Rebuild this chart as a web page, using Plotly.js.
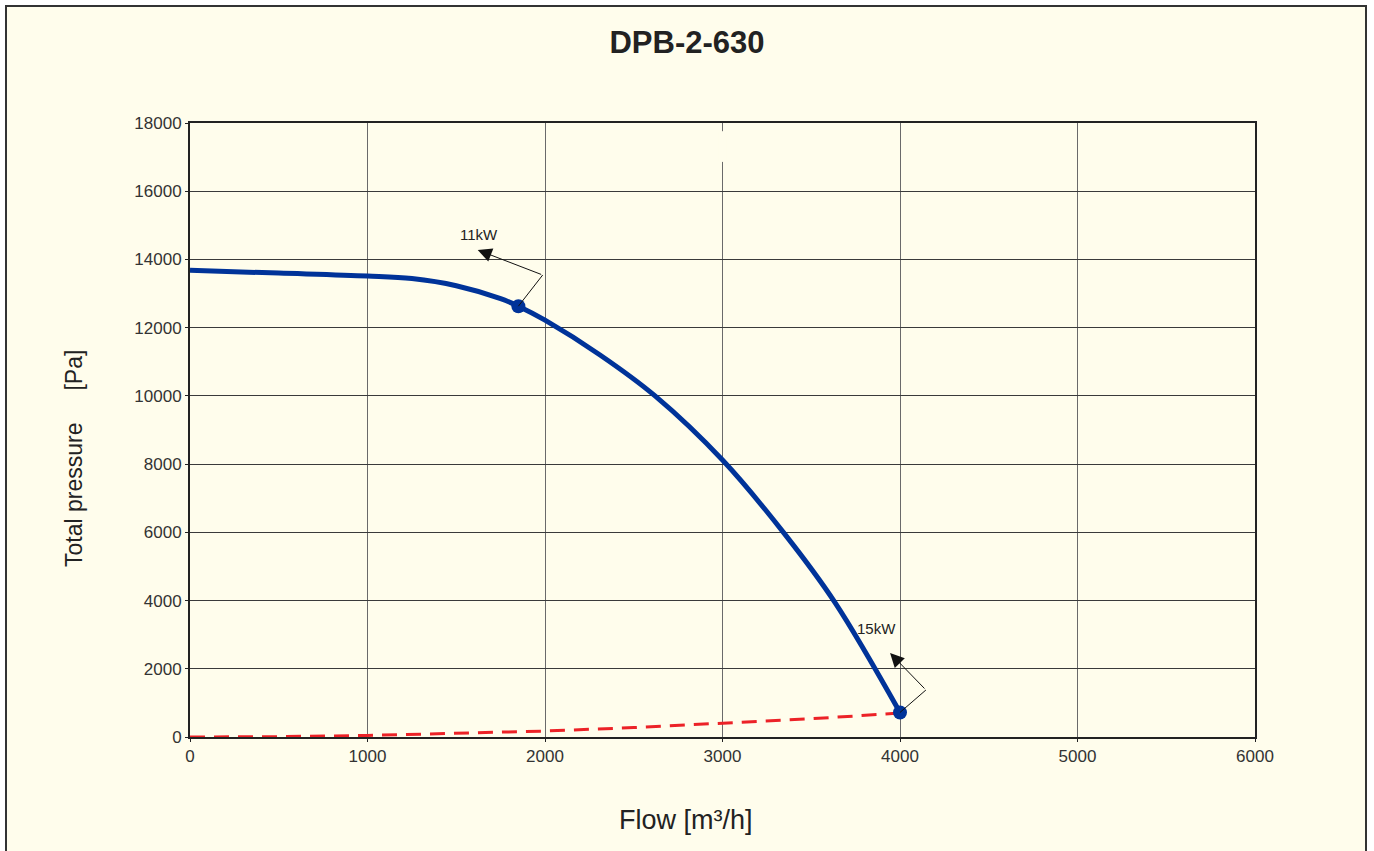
<!DOCTYPE html>
<html>
<head>
<meta charset="utf-8">
<script src="https://cdn.plot.ly/plotly-3.0.1.min.js"></script>
<style>
html,body{margin:0;padding:0;background:#ffffff;}
#chart{width:1374px;height:851px;}
</style>
</head>
<body>
<div id="chart"></div>
<script>
// Fan curve
const flow = [0, 500, 1000, 1250, 1500, 1750, 1850, 2000, 2310, 2620, 3000, 3352, 3634, 4000];
const pressure = [13680, 13600, 13515, 13440, 13230, 12850, 12630, 12220, 11200, 10000, 8120, 5940, 3940, 720];

// System curve (red dashed)
const sysFlow = [0, 500, 1000, 1500, 2000, 2500, 3000, 3500, 4000];
const sysPressure = [0, 10, 45, 100, 175, 275, 395, 535, 700];

// Operating points
const opFlow = [1850, 4000];
const opPressure = [12630, 720];
const opLabels = ["11kW", "15kW"];
const labelFlow = [1628, 3870];
const labelPressure = [14717, 3195];
const cornerFlow = [1987, 4146];
const cornerPressure = [13544, 1378];
const tipFlow = [1621, 3944];
const tipPressure = [14277, 2462];

const xTicks = [0, 1000, 2000, 3000, 4000, 5000, 6000];
const yTicks = [0, 2000, 4000, 6000, 8000, 10000, 12000, 14000, 16000, 18000];

const titleText = 'DPB-2-630';
const xTitle = 'Flow [m³/h]';
const yTitle = 'Total pressure\u00a0\u00a0\u00a0\u00a0\u00a0[Pa]';

const cream = '#fffdec';
const font = 'Liberation Sans, Arial, sans-serif';

const traces = [
  {x: sysFlow, y: sysPressure, mode: 'lines', line: {color: '#ec2227', width: 3, dash: '15px,9px'}, hoverinfo: 'skip'},
  {x: flow, y: pressure, mode: 'lines', line: {color: '#003399', width: 5, shape: 'spline', smoothing: 1}, hoverinfo: 'skip'},
  {x: opFlow, y: opPressure, mode: 'markers', marker: {color: '#003399', size: 14}, hoverinfo: 'skip'}
];

const W = 1065, H = 614, L = 190, T = 123;
const px = v => (v - L) / W;
const py = v => (T + H - v) / H;

const shapes = [
  {type: 'rect', xref: 'paper', yref: 'paper', x0: px(6), x1: px(1366), y0: py(6), y1: py(870),
   fillcolor: cream, line: {color: '#333333', width: 2}, layer: 'below'},
  {type: 'rect', xref: 'x', yref: 'y', x0: 2980, x1: 3020, y0: 16860, y1: 17760,
   fillcolor: cream, line: {width: 0}, layer: 'between'}
];
const annotations = [
  {xref: 'paper', yref: 'paper', x: px(686), y: py(820), xanchor: 'center', yanchor: 'middle',
   text: xTitle, showarrow: false, font: {family: font, size: 27, color: '#222222'}},
  {xref: 'paper', yref: 'paper', x: px(74), y: py(459), xanchor: 'center', yanchor: 'middle', textangle: -90,
   text: yTitle, showarrow: false, font: {family: font, size: 23, color: '#222222'}}
];
for (let i = 0; i < opFlow.length; i++) {
  shapes.push({type: 'line', xref: 'x', yref: 'y', x0: opFlow[i], y0: opPressure[i], x1: cornerFlow[i], y1: cornerPressure[i],
    line: {color: '#111111', width: 1}, layer: 'above'});
  annotations.push({x: tipFlow[i], y: tipPressure[i], xref: 'x', yref: 'y', ax: cornerFlow[i], ay: cornerPressure[i],
    axref: 'x', ayref: 'y', text: '', showarrow: true, arrowhead: 2, arrowsize: 2.8, arrowwidth: 1, arrowcolor: '#111111', standoff: 0});
  annotations.push({x: labelFlow[i], y: labelPressure[i], xref: 'x', yref: 'y', text: opLabels[i], showarrow: false,
    font: {family: font, size: 15, color: '#222222'}});
}

const layout = {
  width: 1374, height: 851,
  margin: {l: L, r: 1374 - L - W, t: T, b: 851 - T - H, pad: 0},
  paper_bgcolor: '#ffffff',
  plot_bgcolor: 'rgba(0,0,0,0)',
  showlegend: false,
  title: {text: '<b>' + titleText + '</b>', x: 0.5, xanchor: 'center', y: 1 - 42/851, yanchor: 'middle',
    font: {family: font, size: 31, color: '#222222'}},
  xaxis: {
    range: [0, 6000], tickvals: xTicks, ticktext: xTicks.map(String),
    showgrid: true, gridcolor: '#6a6a6a', gridwidth: 1,
    showline: true, linecolor: '#222222', linewidth: 2, mirror: true,
    ticks: 'outside', ticklen: 3, tickcolor: '#222222',
    zeroline: false,
    tickfont: {family: font, size: 17, color: '#333333'}
  },
  yaxis: {
    range: [0, 18000], tickvals: yTicks, ticktext: yTicks.map(String),
    showgrid: true, gridcolor: '#3a3a3a', gridwidth: 1,
    showline: true, linecolor: '#222222', linewidth: 2, mirror: true,
    ticks: 'outside', ticklen: 3, tickcolor: '#222222',
    zeroline: false,
    tickfont: {family: font, size: 17, color: '#333333'}
  },
  shapes: shapes,
  annotations: annotations
};

Plotly.newPlot('chart', traces, layout, {displayModeBar: false, staticPlot: true});
</script>
</body>
</html>
